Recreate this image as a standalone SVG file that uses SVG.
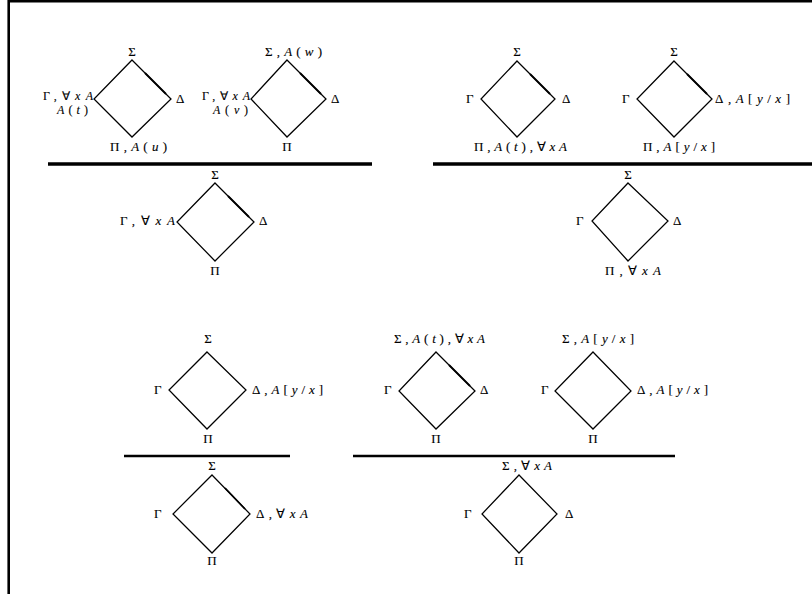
<svg xmlns="http://www.w3.org/2000/svg" width="812" height="594" viewBox="0 0 812 594">
<style>
text{font-family:"Liberation Serif","Times New Roman",serif;font-size:13px;fill:#000;stroke:#000;stroke-width:0.12}
.s{font-size:12px}
.m{font-style:italic}
.c{text-anchor:middle}
.d{fill:none;stroke:#000;stroke-width:1.25;stroke-linejoin:miter}
.h{stroke:#000;stroke-width:1.8;stroke-linecap:butt}
.r1{stroke:#000;stroke-width:3.5}
.r2{stroke:#000;stroke-width:2.4}
.f{stroke:#000;stroke-width:2.6}
</style>
<g id="frame">
<line class="f" x1="8" y1="1.3" x2="812" y2="1.3"/>
<line class="f" x1="8.7" y1="0" x2="8.7" y2="594"/>
</g>
<g id="rules">
<line class="r1" x1="48" y1="164" x2="372" y2="164"/>
<line class="r1" x1="433" y1="164" x2="812" y2="164"/>
<line class="r2" x1="124" y1="456" x2="290" y2="456"/>
<line class="r2" x1="353" y1="456" x2="675" y2="456"/>
</g>
<g id="d1">
<polygon class="d" points="132,60 171,99 132,137 94,99"/>
<line class="h" x1="145" y1="73" x2="166" y2="94"/>
<text class="c" x="132" y="56">Σ</text>
<text class="s" x="43" y="100" textLength="50" lengthAdjust="spacing">Γ,∀<tspan class="m">xA</tspan></text>
<text class="s" x="57" y="114" textLength="31" lengthAdjust="spacing"><tspan class="m">A</tspan>(<tspan class="m">t</tspan>)</text>
<text x="176" y="103">Δ</text>
<text x="110" y="151" textLength="57" lengthAdjust="spacing">Π,<tspan class="m">A</tspan>(<tspan class="m">u</tspan>)</text>
</g>
<g id="d2">
<polygon class="d" points="287,60 326,99 287,137 251,99"/>
<line class="h" x1="300" y1="73" x2="321" y2="94"/>
<text x="265" y="56" textLength="57" lengthAdjust="spacing">Σ,<tspan class="m">A</tspan>(<tspan class="m">w</tspan>)</text>
<text class="s" x="202" y="100" textLength="48" lengthAdjust="spacing">Γ,∀<tspan class="m">xA</tspan></text>
<text class="s" x="213" y="114" textLength="35" lengthAdjust="spacing"><tspan class="m">A</tspan>(<tspan class="m">v</tspan>)</text>
<text x="331" y="103">Δ</text>
<text class="c" x="287" y="151">Π</text>
</g>
<g id="d3">
<polygon class="d" points="517,61 555,99 517,137 481,99"/>
<line class="h" x1="530" y1="74" x2="550" y2="94"/>
<text class="c" x="517" y="56">Σ</text>
<text x="466" y="103">Γ</text>
<text x="562" y="103">Δ</text>
<text x="474" y="151" textLength="93" lengthAdjust="spacing">Π,<tspan class="m">A</tspan>(<tspan class="m">t</tspan>),∀<tspan class="m">xA</tspan></text>
</g>
<g id="d4">
<polygon class="d" points="674,61 712,99 674,137 637,99"/>
<line class="h" x1="687" y1="74" x2="707" y2="94"/>
<text class="c" x="674" y="56">Σ</text>
<text x="622" y="103">Γ</text>
<text x="715" y="103" textLength="75" lengthAdjust="spacing">Δ,<tspan class="m">A</tspan>[<tspan class="m">y</tspan>/<tspan class="m">x</tspan>]</text>
<text x="643" y="151" textLength="72" lengthAdjust="spacing">Π,<tspan class="m">A</tspan>[<tspan class="m">y</tspan>/<tspan class="m">x</tspan>]</text>
</g>
<g id="d5">
<polygon class="d" points="215,183 254,222 215,261 177,222"/>
<line class="h" x1="228" y1="196" x2="249" y2="217"/>
<text class="c" x="215" y="179">Σ</text>
<text x="120" y="225" textLength="55" lengthAdjust="spacing">Γ,∀<tspan class="m">xA</tspan></text>
<text x="259" y="225">Δ</text>
<text class="c" x="215" y="275">Π</text>
</g>
<g id="d6">
<polygon class="d" points="628,183 668,221 628,261 592,221"/>
<text class="c" x="628" y="179">Σ</text>
<text x="576" y="225">Γ</text>
<text x="673" y="225">Δ</text>
<text x="605" y="275" textLength="56" lengthAdjust="spacing">Π,∀<tspan class="m">xA</tspan></text>
</g>
<g id="d7">
<polygon class="d" points="207,352 246,390 207,429 169,390"/>
<text class="c" x="208" y="343">Σ</text>
<text x="154" y="394">Γ</text>
<text x="252" y="394" textLength="71" lengthAdjust="spacing">Δ,<tspan class="m">A</tspan>[<tspan class="m">y</tspan>/<tspan class="m">x</tspan>]</text>
<text class="c" x="208" y="443">Π</text>
</g>
<g id="d8">
<polygon class="d" points="436,352 475,391 436,429 399,391"/>
<line class="h" x1="449" y1="365" x2="470" y2="386"/>
<text x="394" y="343" textLength="91" lengthAdjust="spacing">Σ,<tspan class="m">A</tspan>(<tspan class="m">t</tspan>),∀<tspan class="m">xA</tspan></text>
<text x="384" y="394">Γ</text>
<text x="480" y="394">Δ</text>
<text class="c" x="436" y="443">Π</text>
</g>
<g id="d9">
<polygon class="d" points="593,352 631,391 593,429 555,391"/>
<text x="562" y="343" textLength="72" lengthAdjust="spacing">Σ,<tspan class="m">A</tspan>[<tspan class="m">y</tspan>/<tspan class="m">x</tspan>]</text>
<text x="541" y="394">Γ</text>
<text x="637" y="394" textLength="71" lengthAdjust="spacing">Δ,<tspan class="m">A</tspan>[<tspan class="m">y</tspan>/<tspan class="m">x</tspan>]</text>
<text class="c" x="593" y="443">Π</text>
</g>
<g id="d10">
<polygon class="d" points="212,475 250,514 212,553 173,514"/>
<line class="h" x1="225" y1="488" x2="245" y2="509"/>
<text class="c" x="212" y="470">Σ</text>
<text x="154" y="518">Γ</text>
<text x="256" y="518" textLength="52" lengthAdjust="spacing">Δ,∀<tspan class="m">xA</tspan></text>
<text class="c" x="212" y="565">Π</text>
</g>
<g id="d11">
<polygon class="d" points="519,475 557,514 519,553 482,514"/>
<text x="502" y="470" textLength="50" lengthAdjust="spacing">Σ,∀<tspan class="m">xA</tspan></text>
<text x="464" y="518">Γ</text>
<text x="565" y="518">Δ</text>
<text class="c" x="519" y="565">Π</text>
</g>
</svg>
